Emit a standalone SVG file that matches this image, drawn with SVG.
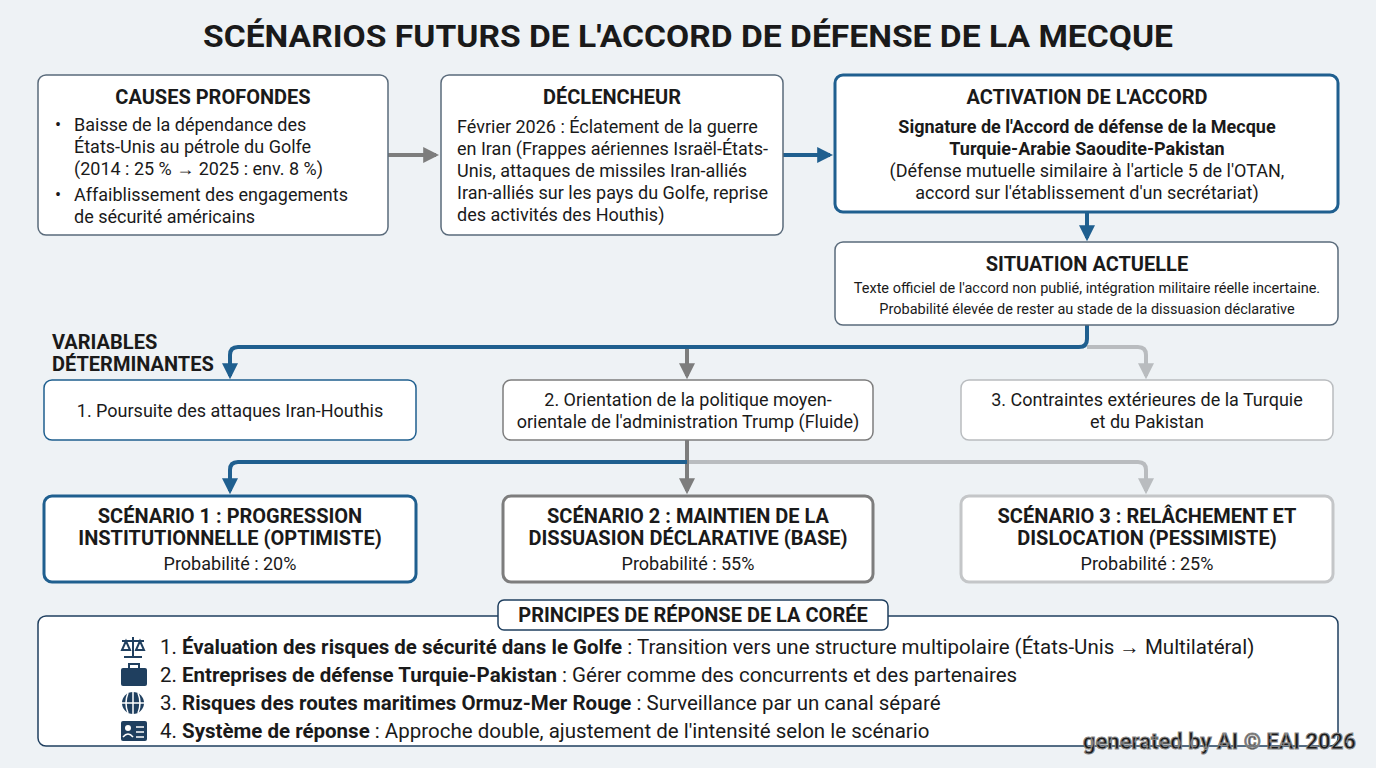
<svg xmlns="http://www.w3.org/2000/svg" width="1376" height="768" viewBox="0 0 1376 768">
<style>
text{font-family:"Roboto","Liberation Sans",sans-serif;fill:#1a1a1a}
.h{font-weight:bold;font-size:20px}
.t{font-size:18px}
.p{font-size:20.5px}
.s{font-size:14.5px}
.box{fill:#fff;stroke:#5a6b7b;stroke-width:1.5}
.blue{stroke:#1f5f8f;stroke-width:4;fill:none}
.gray{stroke:#7d7d7d;stroke-width:4;fill:none}
.lg{stroke:#b9bcbf;stroke-width:4;fill:none}
</style>
<defs>
<marker id="ab" viewBox="0 0 10 10" refX="8" refY="5" markerWidth="4" markerHeight="4" orient="auto"><path d="M0,0L10,5L0,10z" fill="#1f5f8f"/></marker>
<marker id="ag" viewBox="0 0 10 10" refX="8" refY="5" markerWidth="4" markerHeight="4" orient="auto"><path d="M0,0L10,5L0,10z" fill="#7d7d7d"/></marker>
<marker id="al" viewBox="0 0 10 10" refX="8" refY="5" markerWidth="4" markerHeight="4" orient="auto"><path d="M0,0L10,5L0,10z" fill="#b9bcbf"/></marker>
</defs>
<rect width="1376" height="768" fill="#eef2f5"/>
<text x="688" y="47" text-anchor="middle" font-size="31" font-weight="bold" textLength="970" lengthAdjust="spacingAndGlyphs">SCÉNARIOS FUTURS DE L'ACCORD DE DÉFENSE DE LA MECQUE</text>

<g id="connectors">
<path class="gray" d="M388,155H436" marker-end="url(#ag)"/>
<path class="blue" d="M783,155H830" marker-end="url(#ab)"/>
<path class="blue" d="M1087,212V238" marker-end="url(#ab)"/>
<path class="lg" d="M1087,347H1138q8,0 8,8V376" marker-end="url(#al)"/>
<path class="gray" d="M687,347V376" marker-end="url(#ag)"/>
<path class="blue" d="M1087,325V339q0,8 -8,8H238q-8,0 -8,8V376" marker-end="url(#ab)"/>
<path class="lg" d="M687,462H1138q8,0 8,8V491" marker-end="url(#al)"/>
<path class="gray" d="M687,440V491" marker-end="url(#ag)"/>
<path class="blue" d="M687,462H238q-8,0 -8,8V491" marker-end="url(#ab)"/>
</g>

<g id="causes">
<rect class="box" x="38" y="75" width="350" height="160" rx="8"/>
<text x="213" y="104" text-anchor="middle" class="h">CAUSES PROFONDES</text>
<text class="t"><tspan x="55" y="131">•</tspan><tspan x="74" y="131">Baisse de la dépendance des</tspan><tspan x="74" y="153">États-Unis au pétrole du Golfe</tspan><tspan x="74" y="175">(2014 : 25 % → 2025 : env. 8 %)</tspan><tspan x="55" y="201">•</tspan><tspan x="74" y="201">Affaiblissement des engagements</tspan><tspan x="74" y="223">de sécurité américains</tspan></text>
</g>
<g id="declencheur">
<rect class="box" x="441" y="75" width="342" height="160" rx="8"/>
<text x="612" y="104" text-anchor="middle" class="h">DÉCLENCHEUR</text>
<text class="t"><tspan x="457" y="133">Février 2026 : Éclatement de la guerre</tspan><tspan x="457" y="155">en Iran (Frappes aériennes Israël-États-</tspan><tspan x="457" y="177">Unis, attaques de missiles Iran-alliés</tspan><tspan x="457" y="199">Iran-alliés sur les pays du Golfe, reprise</tspan><tspan x="457" y="221">des activités des Houthis)</tspan></text>
</g>
<g id="activation">
<rect x="835" y="75" width="503" height="137" rx="8" fill="#fff" stroke="#1f5f8f" stroke-width="3"/>
<text x="1087" y="104" text-anchor="middle" class="h">ACTIVATION DE L'ACCORD</text>
<text x="1087" y="133" text-anchor="middle" class="t" font-weight="bold">Signature de l'Accord de défense de la Mecque</text>
<text x="1087" y="155" text-anchor="middle" class="t" font-weight="bold">Turquie-Arabie Saoudite-Pakistan</text>
<text x="1087" y="177" text-anchor="middle" class="t">(Défense mutuelle similaire à l'article 5 de l'OTAN,</text>
<text x="1087" y="199" text-anchor="middle" class="t">accord sur l'établissement d'un secrétariat)</text>
</g>
<g id="situation">
<rect class="box" x="835" y="242" width="503" height="83" rx="8"/>
<text x="1087" y="271" text-anchor="middle" class="h">SITUATION ACTUELLE</text>
<text x="1087" y="293" text-anchor="middle" class="s">Texte officiel de l'accord non publié, intégration militaire réelle incertaine.</text>
<text x="1087" y="314" text-anchor="middle" class="s">Probabilité élevée de rester au stade de la dissuasion déclarative</text>
</g>
<g id="variables-label"><text class="h" font-size="19"><tspan x="52" y="349">VARIABLES</tspan><tspan x="52" y="371">DÉTERMINANTES</tspan></text></g>
<g id="var1"><rect x="44" y="380" width="372" height="60" rx="8" fill="#fff" stroke="#1f5f8f" stroke-width="1.5"/>
<text x="230" y="417" text-anchor="middle" class="t">1. Poursuite des attaques Iran-Houthis</text></g>
<g id="var2"><rect x="503" y="380" width="370" height="60" rx="8" fill="#fff" stroke="#7d7d7d" stroke-width="1.5"/>
<text x="688" y="406" text-anchor="middle" class="t">2. Orientation de la politique moyen-</text>
<text x="688" y="428" text-anchor="middle" class="t">orientale de l'administration Trump (Fluide)</text></g>
<g id="var3"><rect x="961" y="380" width="372" height="60" rx="8" fill="#fff" stroke="#b9bcbf" stroke-width="1.5"/>
<text x="1147" y="406" text-anchor="middle" class="t">3. Contraintes extérieures de la Turquie</text>
<text x="1147" y="428" text-anchor="middle" class="t">et du Pakistan</text></g>

<g id="sc1"><rect x="44" y="496" width="372" height="86" rx="8" fill="#fff" stroke="#1f5f8f" stroke-width="3"/>
<text x="230" y="523" text-anchor="middle" class="h">SCÉNARIO 1 : PROGRESSION</text>
<text x="230" y="545" text-anchor="middle" class="h">INSTITUTIONNELLE (OPTIMISTE)</text>
<text x="230" y="570" text-anchor="middle" class="t">Probabilité : 20%</text></g>
<g id="sc2"><rect x="503" y="496" width="370" height="86" rx="8" fill="#fff" stroke="#7d7d7d" stroke-width="3"/>
<text x="688" y="523" text-anchor="middle" class="h">SCÉNARIO 2 : MAINTIEN DE LA</text>
<text x="688" y="545" text-anchor="middle" class="h">DISSUASION DÉCLARATIVE (BASE)</text>
<text x="688" y="570" text-anchor="middle" class="t">Probabilité : 55%</text></g>
<g id="sc3"><rect x="961" y="496" width="372" height="86" rx="8" fill="#fff" stroke="#c4c6c8" stroke-width="3"/>
<text x="1147" y="523" text-anchor="middle" class="h">SCÉNARIO 3 : RELÂCHEMENT ET</text>
<text x="1147" y="545" text-anchor="middle" class="h">DISLOCATION (PESSIMISTE)</text>
<text x="1147" y="570" text-anchor="middle" class="t">Probabilité : 25%</text></g>

<g id="principes">
<rect x="38" y="616" width="1300" height="130" rx="8" fill="#fff" stroke="#1f3f5f" stroke-width="1.5"/>
<rect x="498" y="600" width="390" height="30" rx="6" fill="#fff" stroke="#1f3f5f" stroke-width="1.5"/>
<text x="693" y="622" text-anchor="middle" class="h" font-size="19">PRINCIPES DE RÉPONSE DE LA CORÉE</text>
<g fill="#1f3f5f">
<path d="M133,637v20M124,657h18M122,641h22M126,641l-4,9h8zM140,641l-4,9h8z" stroke="#1f3f5f" stroke-width="2" fill="none"/>
<rect x="121" y="668" width="26" height="18" rx="2"/><rect x="129" y="664" width="10" height="5" fill="none" stroke="#1f3f5f" stroke-width="2"/>
<circle cx="133" cy="703" r="11"/>
<rect x="121" y="721" width="26" height="20" rx="2"/>
</g>
<path d="M122,703h22M133,692v22M128,693q-4,10 0,20M138,693q4,10 0,20" stroke="#fff" stroke-width="1.5" fill="none"/>
<circle cx="128" cy="728" r="3" fill="#fff"/><path d="M123,737q5,-6 10,0M136,727h8M136,732h8M136,737h8" stroke="#fff" stroke-width="1.5" fill="none"/>
<text class="p"><tspan x="160" y="654">1. </tspan><tspan font-weight="bold">Évaluation des risques de sécurité dans le Golfe</tspan><tspan> : Transition vers une structure multipolaire (États-Unis → Multilatéral)</tspan></text>
<text class="p"><tspan x="160" y="682">2. </tspan><tspan font-weight="bold">Entreprises de défense Turquie-Pakistan</tspan><tspan> : Gérer comme des concurrents et des partenaires</tspan></text>
<text class="p"><tspan x="160" y="710">3. </tspan><tspan font-weight="bold">Risques des routes maritimes Ormuz-Mer Rouge</tspan><tspan> : Surveillance par un canal séparé</tspan></text>
<text class="p"><tspan x="160" y="738">4. </tspan><tspan font-weight="bold">Système de réponse</tspan><tspan> : Approche double, ajustement de l'intensité selon le scénario</tspan></text>
</g>
<text x="1356" y="749" text-anchor="end" font-size="22" font-weight="bold" fill="#fff" stroke="#888" stroke-width="1">generated by AI © EAI 2026</text>
</svg>
